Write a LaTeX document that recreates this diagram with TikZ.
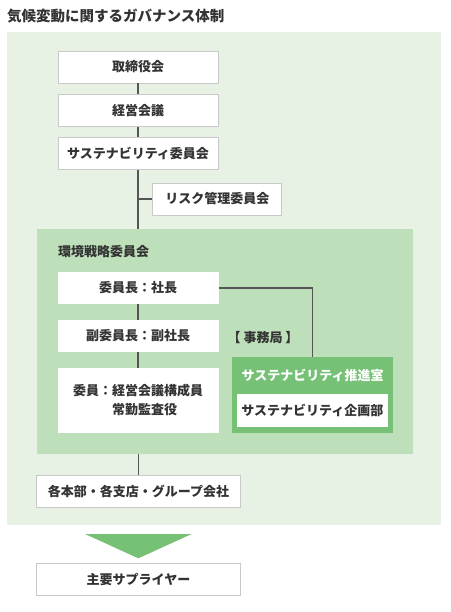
\documentclass[tikz,border=0pt]{standalone}
\usepackage{fontspec}
\setmainfont{Noto Sans CJK JP}
\definecolor{outergreen}{HTML}{E7F2E5}
\definecolor{innergreen}{HTML}{BDDFB9}
\definecolor{darkgreen}{HTML}{77C177}
\definecolor{boxline}{HTML}{C9C9C9}
\definecolor{connline}{HTML}{555555}
\definecolor{txt}{HTML}{333333}

\tikzset{
  box/.style={draw=boxline, line width=0.9pt, fill=white, text=txt, inner sep=0pt,
    minimum height=32pt, font=\fontsize{13pt}{18.7pt}\selectfont\bfseries},
  plainbox/.style={fill=white, text=txt, inner sep=0pt,
    minimum width=161pt, minimum height=32pt, font=\fontsize{13pt}{18.7pt}\selectfont\bfseries},
  conn/.style={draw=connline, line width=1.1pt},
  label/.style={text=txt, inner sep=0pt, font=\fontsize{13pt}{16pt}\selectfont\bfseries}
}

\begin{document}
\begin{tikzpicture}[x=1pt,y=-1pt]
\useasboundingbox (0,0) rectangle (450,612);

% Title
\node[label, anchor=west, font=\fontsize{14.5pt}{18pt}\selectfont\bfseries] (title) at (7,16) {気候変動に関するガバナンス体制};

% Outer panel
\fill[outergreen] (7,32) rectangle (441,525);

% Top chain
\node[box, minimum width=160pt] (board) at (138,67) {取締役会};
\node[box, minimum width=160pt] (mgmt) at (138,110.3) {経営会議};
\node[box, minimum width=160pt] (susc) at (138,153.3) {サステナビリティ委員会};
\node[box, minimum width=129pt] (risk) at (217.3,199) {リスク管理委員会};

% Environmental strategy committee
\node[fill=innergreen, minimum width=376pt, minimum height=225pt, inner sep=0pt] (envpanel) at (225,341.5) {};
\node[label, anchor=west] (envlabel) at (58,252) {環境戦略委員会};
\node[plainbox] (chair) at (138,288) {委員長：社長};
\node[plainbox] (vice) at (138,336) {副委員長：副社長};
\node[plainbox, minimum height=64.7pt, align=left] (members) at (138,400.3) {委員：経営会議構成員\\\phantom{委員：}常勤監査役};

% Secretariat
\node[label] (office) at (263,338) {【 事務局 】};
\node[fill=darkgreen, minimum width=161.3pt, minimum height=75.4pt, inner sep=0pt] (promo) at (312.7,395) {};
\node[label, text=white] (promotitle) at (312.7,375) {サステナビリティ推進室};
\node[plainbox, minimum width=150.7pt, minimum height=33pt] (plan) at (312.3,410.8) {サステナビリティ企画部};

% Groups and suppliers
\node[box, minimum width=204.4pt, minimum height=32.7pt] (groups) at (138.5,491.3) {各本部・各支店・グループ会社};
\fill[darkgreen] (85,534) -- (191.7,534) -- (138.3,558.3) -- cycle;
\node[box, minimum width=204.4pt] (suppliers) at (138.5,579.8) {主要サプライヤー};

% Connectors
\draw[conn] (board) -- (mgmt);
\draw[conn] (mgmt) -- (susc);
\draw[conn] (susc.south) -- (susc.south |- envpanel.north);
\draw[conn] (risk.west) -- (risk.west -| susc.south);
\draw[conn] (chair) -- (vice);
\draw[conn] (vice) -- (members);
\draw[conn] (chair.east) -| (promo.north);
\draw[conn] (envpanel.south -| groups.north) -- (groups.north);
\end{tikzpicture}
\end{document}
